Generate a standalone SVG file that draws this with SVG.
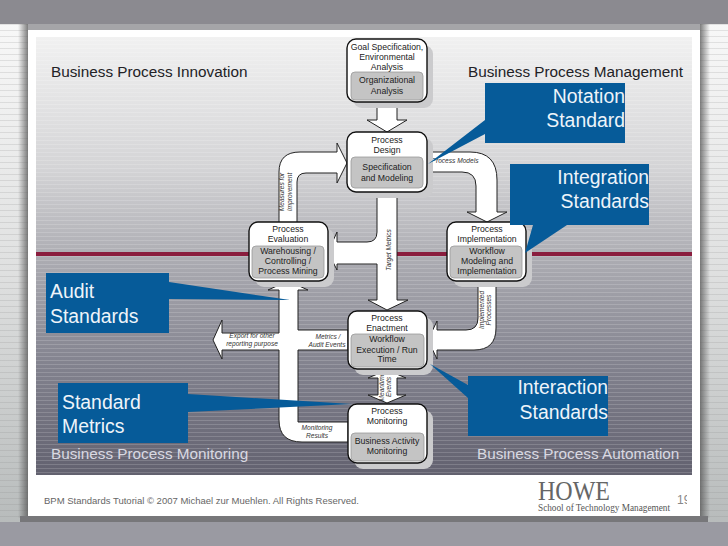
<svg xmlns="http://www.w3.org/2000/svg" width="728" height="546" viewBox="0 0 728 546">
<style>
.lbl{font-family:"Liberation Sans",Arial,sans-serif}
.title{font-size:15.3px;fill:#222226}
.low{font-size:15.3px;fill:#d9d9e2}
.call{font-size:19.4px;fill:#eef4fa}
.callout{fill:#065b99}
.shadow{fill:#cbcbcd}
.box{fill:#fff;stroke:#111;stroke-width:1.4}
.inner{fill:#c4c4c4;stroke:#999;stroke-width:.8}
.nt{font-size:8.7px;fill:#222;text-anchor:middle}
.arrow{fill:#fff;stroke:#222;stroke-width:1}
.al{font-size:6.6px;font-style:italic;fill:#333;text-anchor:middle}
</style>
<defs>
<linearGradient id="panel" x1="0" y1="0" x2="0" y2="1">
<stop offset="0" stop-color="#f1f1f1"/><stop offset=".3" stop-color="#d4d4d6"/><stop offset=".5" stop-color="#adadb3"/><stop offset=".75" stop-color="#82828e"/><stop offset="1" stop-color="#62616f"/>
</linearGradient>
<linearGradient id="side" x1="0" y1="0" x2="0" y2="1">
<stop offset="0" stop-color="#fafafa"/><stop offset=".5" stop-color="#dfe0e0"/><stop offset="1" stop-color="#b4b8b8"/>
</linearGradient>
<linearGradient id="sl" x1="0" y1="0" x2="1" y2="0">
<stop offset="0" stop-color="#555" stop-opacity="0"/><stop offset="1" stop-color="#555" stop-opacity=".75"/>
</linearGradient>
<linearGradient id="sr" x1="0" y1="0" x2="1" y2="0">
<stop offset="0" stop-color="#555" stop-opacity=".75"/><stop offset="1" stop-color="#555" stop-opacity="0"/>
</linearGradient>
<pattern id="stripes" width="4" height="4" patternUnits="userSpaceOnUse">
<rect width="4" height="1" fill="#fff" fill-opacity=".16"/>
</pattern>
<pattern id="sideStripes" width="6" height="6" patternUnits="userSpaceOnUse">
<rect width="6" height="1" fill="#888" fill-opacity=".2"/>
</pattern>
<clipPath id="pg"><rect x="670" y="485" width="17" height="25"/></clipPath>
</defs>
<g id="background">
<rect width="728" height="546" fill="url(#side)"/>
<rect width="728" height="546" fill="url(#sideStripes)"/>
<rect x="18" y="24" width="10" height="494" fill="url(#sl)"/>
<rect x="700" y="24" width="10" height="494" fill="url(#sr)"/>
<rect width="728" height="24" fill="#8b8a90"/>
<rect x="28" y="24" width="672" height="6" fill="#a5a5a8"/>
<rect y="522" width="728" height="24" fill="#9a9aa2"/>
<rect x="20" y="516" width="688" height="6" fill="#77777a"/>
<rect x="28" y="30" width="672" height="486" fill="#fff"/>
<rect x="36" y="37" width="656" height="438" fill="url(#panel)"/>
<rect x="36" y="37" width="656" height="438" fill="url(#stripes)"/>
<rect x="36" y="252" width="656" height="4" fill="#8a1d3e"/>
</g>
<g id="connectors">
<polygon class="arrow" points="377,102 397,102 397,120 407,120 387,132 367,120 377,120"/>
<path class="arrow" d="M279,223V172Q279,152 300,152H337V143L347,163L337,183V173H306Q297,173 297,182V223Z"/>
<path class="arrow" d="M427,152H470Q497,152 497,180V212H507L487,222L467,212H476V186Q476,172 462,172H427Z"/>
<path class="arrow" d="M377,192V232Q377,242 367,242H337V232L328,252L337,270V264H377V300H368L387,310L408,300H397V192Z"/>
<path class="arrow" d="M478,281V318Q478,330 466,330H437V321L428,340L437,359V350H474Q496,350 496,328V281Z"/>
<path class="arrow" d="M268,290L288,281L308,290H298V330H348V350H298V422H348V442H302Q279,442 279,420V350H222V359L213,340L222,320V333H279V290Z"/>
<polygon class="arrow" points="378,378 368,378 387,370 406,378 397,378 397,395 406,395 387,403 368,395 378,395"/>
<text class="lbl al" transform="translate(284,192) rotate(-90)">Measures for</text>
<text class="lbl al" transform="translate(292,192) rotate(-90)">Improvement</text>
<text class="lbl al" x="455" y="163">Process Models</text>
<text class="lbl al" transform="translate(391,250) rotate(-90)">Target Metrics</text>
<text class="lbl al" transform="translate(484,310) rotate(-90)">Implemented</text>
<text class="lbl al" transform="translate(491,310) rotate(-90)">Processes</text>
<text class="lbl al" x="252" y="338">Export for other</text>
<text class="lbl al" x="252" y="346">reporting purpose</text>
<text class="lbl al" x="328" y="339">Metrics /</text>
<text class="lbl al" x="327" y="347">Audit Events</text>
<text class="lbl al" x="317" y="430">Monitoring</text>
<text class="lbl al" x="317" y="438">Results</text>
<text class="lbl al" transform="translate(384,387) rotate(-90)">Meantime</text>
<text class="lbl al" transform="translate(391,387) rotate(-90)">Events</text>
</g>
<g id="goal">
<rect class="shadow" x="353" y="45" width="80" height="63" rx="9"/>
<rect class="box" x="347" y="39" width="80" height="63" rx="9"/>
<rect class="inner" x="351" y="72" width="72" height="28" rx="4"/>
<text class="lbl nt" x="387" y="50">Goal Specification,</text>
<text class="lbl nt" x="387" y="60">Environmental</text>
<text class="lbl nt" x="387" y="70">Analysis</text>
<text class="lbl nt" x="387" y="83">Organizational</text>
<text class="lbl nt" x="387" y="94">Analysis</text>
</g>
<g id="design">
<rect class="shadow" x="353" y="138" width="80" height="60" rx="9"/>
<rect class="box" x="347" y="132" width="80" height="60" rx="9"/>
<rect class="inner" x="351" y="157" width="72" height="31" rx="4"/>
<text class="lbl nt" x="387" y="143">Process</text>
<text class="lbl nt" x="387" y="153">Design</text>
<text class="lbl nt" x="387" y="170">Specification</text>
<text class="lbl nt" x="387" y="181">and Modeling</text>
</g>
<g id="evaluation">
<rect class="shadow" x="255" y="228" width="79" height="59" rx="9"/>
<rect class="box" x="249" y="222" width="79" height="59" rx="9"/>
<rect class="inner" x="252" y="246" width="72" height="32" rx="4"/>
<text class="lbl nt" x="288" y="232">Process</text>
<text class="lbl nt" x="288" y="242">Evaluation</text>
<text class="lbl nt" x="288" y="254">Warehousing /</text>
<text class="lbl nt" x="288" y="264">Controlling /</text>
<text class="lbl nt" x="288" y="274">Process Mining</text>
</g>
<g id="implementation">
<rect class="shadow" x="453" y="228" width="79" height="59" rx="9"/>
<rect class="box" x="447" y="222" width="79" height="59" rx="9"/>
<rect class="inner" x="450" y="246" width="72" height="32" rx="4"/>
<text class="lbl nt" x="487" y="232">Process</text>
<text class="lbl nt" x="487" y="242">Implementation</text>
<text class="lbl nt" x="487" y="254">Workflow</text>
<text class="lbl nt" x="487" y="264">Modeling and</text>
<text class="lbl nt" x="487" y="274">Implementation</text>
</g>
<g id="enactment">
<rect class="shadow" x="354" y="317" width="79" height="58" rx="9"/>
<rect class="box" x="348" y="311" width="79" height="58" rx="9"/>
<rect class="inner" x="351" y="334" width="73" height="33" rx="4"/>
<text class="lbl nt" x="387" y="321">Process</text>
<text class="lbl nt" x="387" y="331">Enactment</text>
<text class="lbl nt" x="387" y="342">Workflow</text>
<text class="lbl nt" x="387" y="353">Execution / Run</text>
<text class="lbl nt" x="387" y="362">Time</text>
</g>
<g id="monitoring">
<rect class="shadow" x="354" y="410" width="79" height="59" rx="9"/>
<rect class="box" x="348" y="404" width="79" height="59" rx="9"/>
<rect class="inner" x="351" y="433" width="73" height="28" rx="4"/>
<text class="lbl nt" x="387" y="414">Process</text>
<text class="lbl nt" x="387" y="424">Monitoring</text>
<text class="lbl nt" x="387" y="444">Business Activity</text>
<text class="lbl nt" x="387" y="454">Monitoring</text>
</g>
<g id="callout-notation">
<path class="callout" d="M485,83H625V143H485V134L428,164L485,120Z"/>
<text class="lbl call" x="625" y="103" text-anchor="end">Notation</text>
<text class="lbl call" x="625" y="127" text-anchor="end">Standard</text>
</g>
<g id="callout-integration">
<path class="callout" d="M510,164H649V225H567L525,253L533,225H510Z"/>
<text class="lbl call" x="649" y="184" text-anchor="end">Integration</text>
<text class="lbl call" x="649" y="208" text-anchor="end">Standards</text>
</g>
<g id="callout-audit">
<path class="callout" d="M46,273H169V282L290,300L169,299V333H46Z"/>
<text class="lbl call" x="50" y="298">Audit</text>
<text class="lbl call" x="50" y="323">Standards</text>
</g>
<g id="callout-metrics">
<path class="callout" d="M58,383H188V394L352,404L188,412V443H58Z"/>
<text class="lbl call" x="62" y="409">Standard</text>
<text class="lbl call" x="62" y="433">Metrics</text>
</g>
<g id="callout-interaction">
<path class="callout" d="M468,376H608V436H468V398L430,364L468,385Z"/>
<text class="lbl call" x="608" y="394" text-anchor="end">Interaction</text>
<text class="lbl call" x="608" y="419" text-anchor="end">Standards</text>
</g>
<g id="titles">
<text class="lbl title" x="51" y="77">Business Process Innovation</text>
<text class="lbl title" x="468" y="77">Business Process Management</text>
<text class="lbl low" x="51" y="459">Business Process Monitoring</text>
<text class="lbl low" x="477" y="459">Business Process Automation</text>
</g>
<g id="footer">
<text class="lbl" x="44" y="504" font-size="9.5" fill="#666">BPM Standards Tutorial © 2007 Michael zur Muehlen. All Rights Reserved.</text>
<text x="538" y="500" font-family="Liberation Serif,serif" font-size="27" fill="#666" textLength="72" lengthAdjust="spacingAndGlyphs">HOWE</text>
<text x="538" y="511" font-family="Liberation Serif,serif" font-size="10" fill="#555" textLength="132" lengthAdjust="spacingAndGlyphs">School of Technology Management</text>
<text class="lbl" x="677" y="504" font-size="12" fill="#888" clip-path="url(#pg)">19</text>
</g>
</svg>
